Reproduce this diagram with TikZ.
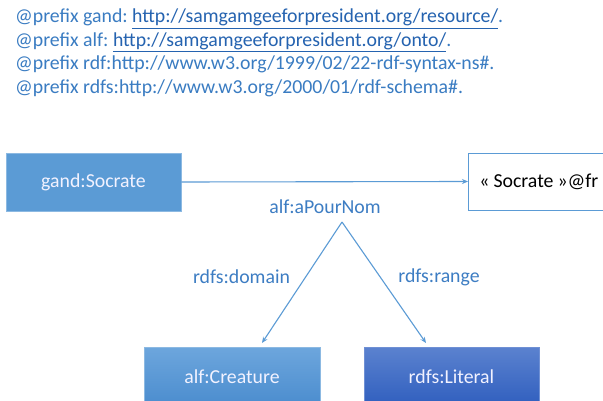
\documentclass[tikz,border=0pt]{standalone}
\usepackage{fontspec}
\setmainfont{Carlito}
\usetikzlibrary{arrows.meta}
\definecolor{pfx}{HTML}{3A7CC2}
\definecolor{lnk}{HTML}{2563B0}
\definecolor{lbl}{HTML}{3D7DC3}
\definecolor{edge}{HTML}{5B9BD5}
\definecolor{boxA}{HTML}{5B9BD5}
\definecolor{creatTop}{HTML}{6DA6DD}
\definecolor{creatBot}{HTML}{4A8CCE}
\definecolor{litTop}{HTML}{5B82CF}
\definecolor{litBot}{HTML}{2F5EBE}
\definecolor{litDraw}{HTML}{6F90D4}
\tikzset{
  every node/.style={font=\fontsize{19.8}{23.5}\selectfont},
  pfxline/.style={anchor=base west, inner sep=0pt, text=pfx},
  bluebox/.style={draw=boxA!70!white, line width=0.6pt, fill=boxA, text=white!95!blue, minimum width=175pt, minimum height=58pt, inner sep=0pt},
  litbox/.style={draw=edge, line width=0.8pt, fill=white, text=black, anchor=west, minimum height=57pt, text width=140pt, align=left, inner xsep=11pt},
  edgelabel/.style={text=lbl, inner sep=0pt},
  conn/.style={draw=edge, line width=1.1pt, -{Stealth[length=6pt,width=5pt]}},
}
\newcommand{\lk}[1]{{\color{lnk}\underline{#1}}}
\begin{document}
\begin{tikzpicture}[x=1pt,y=-1pt]
\clip (0,0) rectangle (603,401);
\fill[white] (0,0) rectangle (603,401);
\node[pfxline] (p1) at (15,23) {@prefix gand:\hspace{4.5pt}\lk{http://samgamgeeforpresident.org/resource/}.};
\node[pfxline] (p2) at (15,46.5) {@prefix alf:\hspace{4.5pt}\lk{http://samgamgeeforpresident.org/onto/}.};
\node[pfxline] (p3) at (15,70) {@prefix rdf:http://www.w3.org/1999/02/22-rdf-syntax-ns\#.};
\node[pfxline] (p4) at (15,93.5) {@prefix rdfs:http://www.w3.org/2000/01/rdf-schema\#.};

\node[bluebox] (gand) at (93.5,182) {gand:Socrate};
\node[litbox] (socr) at (468,181.5) {«\hspace{4pt}Socrate\hspace{4pt}»@fr};
\draw[conn] (gand.east) -- (socr.west);

\node[edgelabel] (pour) at (325,207) {alf:aPourNom};
\coordinate (apex) at (342,222);

\node[bluebox, top color=creatTop, bottom color=creatBot, minimum width=176pt, minimum height=60pt] (creat) at (232,377) {alf:Creature};
\node[bluebox, draw=litDraw, top color=litTop, bottom color=litBot, minimum width=175pt, minimum height=60pt] (lit) at (451.5,377) {rdfs:Literal};

\coordinate (dend) at (262,343);
\coordinate (rend) at (426,343);
\draw[conn] (apex) -- (dend);
\draw[conn] (apex) -- (rend);

\node[edgelabel] (dom) at (241.5,277) {rdfs:domain};
\node[edgelabel] (rng) at (439,277) {rdfs:range};
\end{tikzpicture}
\end{document}
